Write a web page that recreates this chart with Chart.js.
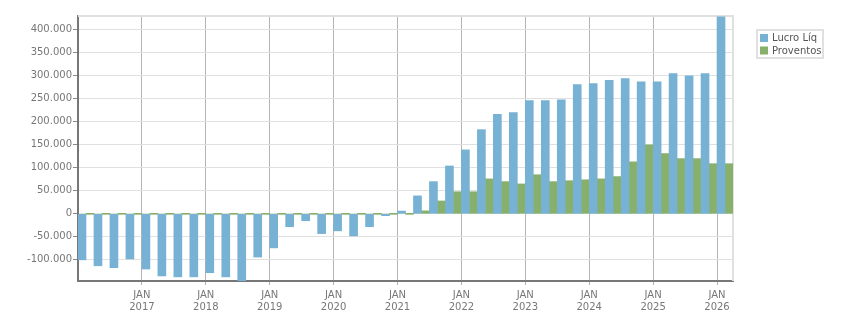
<!DOCTYPE html>
<html>
<head>
<meta charset="utf-8">
<script src="https://cdn.jsdelivr.net/npm/chart.js@4/dist/chart.umd.min.js"></script>
<style>
  html, body { margin: 0; padding: 0; background: #fff; }
  #wrap { width: 851px; height: 313px; position: relative; }
</style>
</head>
<body>
<div id="wrap"><canvas id="lucro-chart"></canvas></div>
<script>
const lucroCanvas = document.getElementById("lucro-chart")

// quarters, 2016 Q1 .. 2026 Q1
const quarters = [
  "2016-01", "2016-04", "2016-07", "2016-10",
  "2017-01", "2017-04", "2017-07", "2017-10",
  "2018-01", "2018-04", "2018-07", "2018-10",
  "2019-01", "2019-04", "2019-07", "2019-10",
  "2020-01", "2020-04", "2020-07", "2020-10",
  "2021-01", "2021-04", "2021-07", "2021-10",
  "2022-01", "2022-04", "2022-07", "2022-10",
  "2023-01", "2023-04", "2023-07", "2023-10",
  "2024-01", "2024-04", "2024-07", "2024-10",
  "2025-01", "2025-04", "2025-07", "2025-10",
  "2026-01",
]

const lucroLiq = [
  -100000, -113000, -117000, -98000,
  -120000, -135000, -137000, -137000,
  -128000, -137000, -146000, -94000,
  -74000, -28000, -15000, -43000,
  -37000, -48000, -28000, -4000,
  6000, 39000, 70000, 104000,
  139000, 183000, 216000, 220000,
  246000, 246000, 248000, 281000,
  283000, 290000, 294000, 287000,
  287000, 305000, 300000, 305000,
  428000,
]

const proventos = [
  0, 0, 0, 0,
  0, 0, 0, 0,
  0, 0, 0, 0,
  0, 0, 0, 0,
  0, 0, 0, 0,
  0, 6500, 28000, 48000,
  48000, 76000, 70000, 65000,
  85000, 70000, 72000, 74000,
  76000, 81000, 113000, 150000,
  131000, 120000, 120000, 109000,
  109000,
]

const yTicks = [-100000, -50000, 0, 50000, 100000, 150000, 200000, 250000, 300000, 350000, 400000]

const tickFont = { family: "DejaVu Sans", size: 10 }

function isYearStart(i) {
  return i > 0 && i < quarters.length && quarters[i].endsWith("-01")
}

function formatNumber(v) {
  const s = String(Math.abs(v)).replace(/\B(?=(\d{3})+(?!\d))/g, ".")
  return v < 0 ? "-" + s : s
}

// top + right frame of the plot
const plotFrame = {
  id: "plotFrame",
  beforeDatasetsDraw(chart) {
    const { ctx, chartArea } = chart
    ctx.save()
    ctx.strokeStyle = "#e0e0e0"
    ctx.lineWidth = 2
    ctx.beginPath()
    ctx.moveTo(chartArea.left, chartArea.top)
    ctx.lineTo(chartArea.right, chartArea.top)
    ctx.lineTo(chartArea.right, chartArea.bottom)
    ctx.stroke()
    ctx.restore()
  },
}

// boxed legend on the right
const boxLegend = {
  id: "boxLegend",
  afterDraw(chart) {
    const ctx = chart.ctx
    const x = 757
    const y = 30
    ctx.save()
    ctx.strokeStyle = "#e0e0e0"
    ctx.lineWidth = 2
    ctx.strokeRect(x, y, 66, 28)
    ctx.font = '10px "DejaVu Sans"'
    ctx.textBaseline = "middle"
    chart.data.datasets.forEach((ds, i) => {
      ctx.fillStyle = ds.backgroundColor
      ctx.fillRect(x + 3, y + 4 + i * 12.5, 8, 8)
      ctx.fillStyle = "#555"
      ctx.fillText(ds.label, x + 15, y + 8.5 + i * 12.5)
    })
    ctx.restore()
  },
}

const lucroData = {
  labels: quarters,
  datasets: [
    {
      label: "Lucro Líq",
      data: lucroLiq,
      backgroundColor: "#77b1d3",
      categoryPercentage: 1,
      barPercentage: 1,
    },
    {
      label: "Proventos",
      data: proventos,
      backgroundColor: "#88b06a",
      categoryPercentage: 1,
      barPercentage: 1,
      minBarLength: 1,
    },
  ],
}

const lucroOptions = {
  responsive: true,
  maintainAspectRatio: false,
  animation: false,
  events: [],
  layout: {
    padding: { top: 16, right: 118, left: 0, bottom: 0 },
  },
  scales: {
    x: {
      offset: true,
      grid: {
        offset: true,
        color: (ctx) => (isYearStart(ctx.index) ? "#b4b4b4" : "rgba(0,0,0,0)"),
        tickLength: 4,
      },
      border: { color: "#777", width: 2 },
      ticks: {
        autoSkip: false,
        maxRotation: 0,
        minRotation: 0,
        labelOffset: -8,
        padding: 4,
        color: "#777",
        font: tickFont,
        callback: (v, i) => (isYearStart(i) ? ["JAN", quarters[i].slice(0, 4)] : ""),
      },
      afterFit: (s) => {
        s.height = 32
      },
    },
    y: {
      min: -146000,
      max: 430000,
      afterBuildTicks: (s) => {
        s.ticks = yTicks.map((v) => ({ value: v }))
      },
      grid: {
        color: "#e0e0e0",
        tickColor: "#888",
        tickLength: 5,
      },
      border: { color: "#777", width: 2 },
      ticks: {
        padding: 1,
        color: "#777",
        font: tickFont,
        callback: (v) => formatNumber(v),
      },
      afterFit: (s) => {
        s.width = 78
      },
    },
  },
  plugins: {
    legend: { display: false },
    tooltip: { enabled: false },
  },
}

let lucroChart = new Chart(lucroCanvas, {
  type: "bar",
  data: lucroData,
  options: lucroOptions,
  plugins: [plotFrame, boxLegend],
})
</script>
</body>
</html>
